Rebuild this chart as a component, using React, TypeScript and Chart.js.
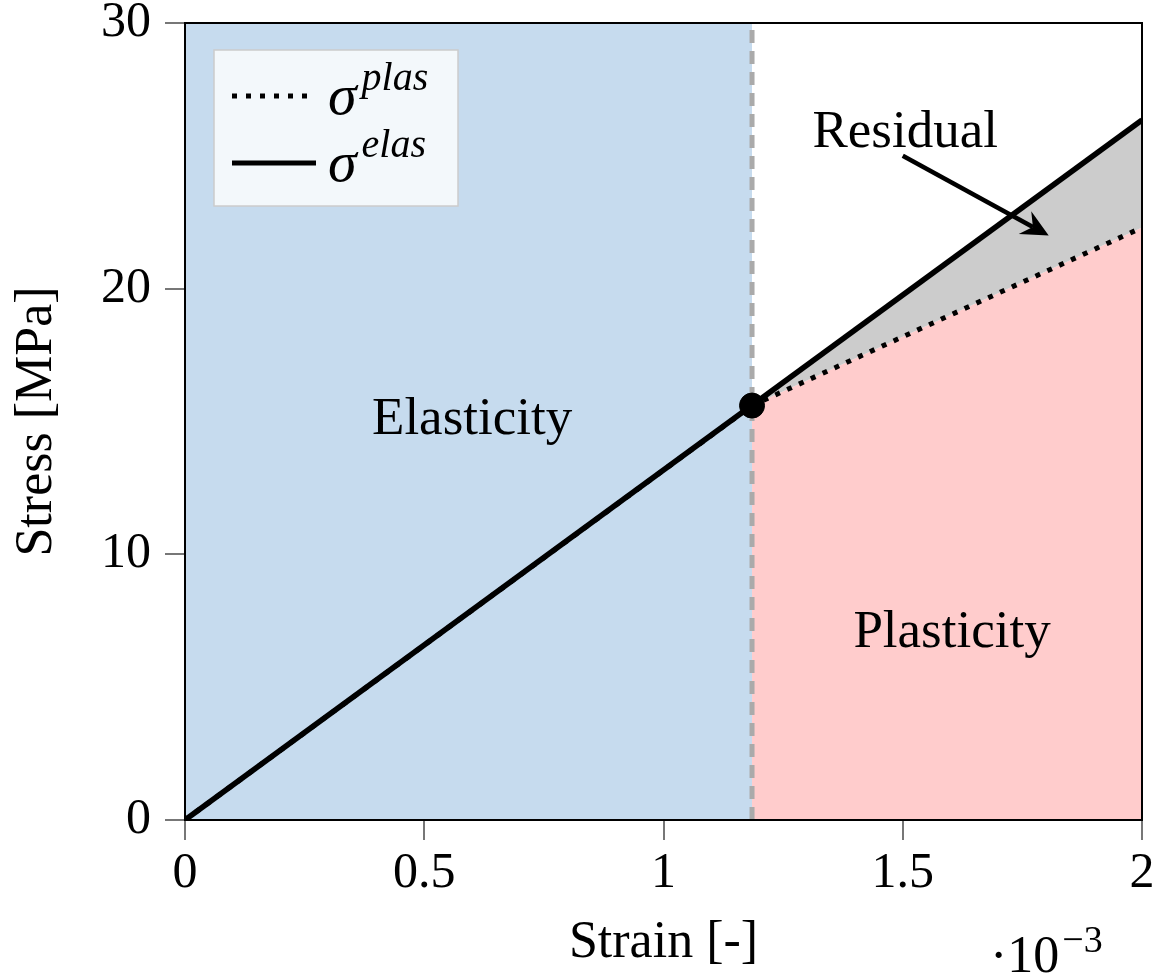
import React, { useEffect, useRef } from "react";
import { Chart, registerables } from "chart.js";

Chart.register(...registerables);

// ---- data ----
const xRange = [0, 2];
const yRange = [0, 30];
const xTicks = [0, 0.5, 1, 1.5, 2];
const yTicks = [0, 10, 20, 30];
const yieldPoint = { x: 1.185, y: 15.6 };
const elasticEnd = { x: 2, y: 26.35 };
const plasticEnd = { x: 2, y: 22.3 };
const legendLabels = [
  { base: "σ", sup: "plas", dotted: true },
  { base: "σ", sup: "elas", dotted: false },
];
const regionLabels = [
  { text: "Elasticity", x: 0.6, y: 15.05 },
  { text: "Plasticity", x: 1.603, y: 7.05 },
  { text: "Residual", x: 1.505, y: 25.85 },
];
const arrowFrom = { x: 1.5, y: 25.0 };
const arrowTo = { x: 1.805, y: 22.0 };
const xAxisTitle = "Strain [-]";
const yAxisTitle = "Stress [MPa]";
const exponentBase = "·10";
const exponentSup = "−3";

const FONT = "'Liberation Serif', 'DejaVu Serif', serif";
const BLUE = "#c6dbee";
const PINK = "#ffcccc";
const GRAY = "#cccccc";

const overlayPlugin = {
  id: "overlay",
  afterDatasetsDraw(chart: any) {
    const { ctx, chartArea, scales } = chart;
    const xs = scales.x;
    const ys = scales.y;
    ctx.save();
    // region labels
    ctx.fillStyle = "#000";
    ctx.font = `53px ${FONT}`;
    ctx.textAlign = "center";
    ctx.textBaseline = "middle";
    for (const l of regionLabels) {
      ctx.fillText(l.text, xs.getPixelForValue(l.x), ys.getPixelForValue(l.y));
    }
    // arrow
    const x1 = xs.getPixelForValue(arrowFrom.x);
    const y1 = ys.getPixelForValue(arrowFrom.y);
    const x2 = xs.getPixelForValue(arrowTo.x);
    const y2 = ys.getPixelForValue(arrowTo.y);
    const ang = Math.atan2(y2 - y1, x2 - x1);
    const head = 30;
    ctx.strokeStyle = "#000";
    ctx.lineWidth = 4.5;
    ctx.beginPath();
    ctx.moveTo(x1, y1);
    ctx.lineTo(x2 - Math.cos(ang) * head * 0.6, y2 - Math.sin(ang) * head * 0.6);
    ctx.stroke();
    ctx.beginPath();
    ctx.moveTo(x2, y2);
    ctx.lineTo(x2 - head * Math.cos(ang - 0.45), y2 - head * Math.sin(ang - 0.45));
    ctx.lineTo(x2 - head * 0.6 * Math.cos(ang), y2 - head * 0.6 * Math.sin(ang));
    ctx.lineTo(x2 - head * Math.cos(ang + 0.45), y2 - head * Math.sin(ang + 0.45));
    ctx.closePath();
    ctx.fillStyle = "#000";
    ctx.fill();

    // frame
    ctx.strokeStyle = "#000";
    ctx.lineWidth = 2;
    ctx.strokeRect(chartArea.left, chartArea.top, chartArea.right - chartArea.left, chartArea.bottom - chartArea.top);

    // legend box
    const bx = chartArea.left + 29;
    const by = chartArea.top + 27;
    const bw = 244;
    const bh = 156;
    ctx.fillStyle = "rgba(243,248,251,1)";
    ctx.fillRect(bx, by, bw, bh);
    ctx.strokeStyle = "#cccccc";
    ctx.lineWidth = 1.5;
    ctx.strokeRect(bx, by, bw, bh);
    legendLabels.forEach((l, i) => {
      const ly = by + 46 + i * 67;
      ctx.strokeStyle = "#000";
      ctx.lineWidth = 5;
      ctx.setLineDash(l.dotted ? [5, 9] : []);
      ctx.beginPath();
      ctx.moveTo(bx + 18, ly);
      ctx.lineTo(bx + 102, ly);
      ctx.stroke();
      ctx.setLineDash([]);
      ctx.fillStyle = "#000";
      ctx.textAlign = "left";
      ctx.textBaseline = "alphabetic";
      ctx.font = `italic 58px ${FONT}`;
      ctx.fillText(l.base, bx + 114, ly + 18);
      const w = ctx.measureText(l.base).width;
      ctx.font = `italic 40px ${FONT}`;
      ctx.fillText(l.sup, bx + 114 + w + 5, ly - 6);
    });

    // exponent label
    ctx.fillStyle = "#000";
    ctx.textAlign = "left";
    ctx.textBaseline = "alphabetic";
    ctx.font = `52px ${FONT}`;
    const ex = 990;
    const ey = 972;
    ctx.fillText(exponentBase, ex, ey);
    const ew = ctx.measureText(exponentBase).width;
    ctx.font = `38px ${FONT}`;
    ctx.fillText(exponentSup, ex + ew + 3, ey - 20);
    ctx.restore();
  },
};

export default function App() {
  const ref = useRef<HTMLCanvasElement | null>(null);
  useEffect(() => {
    if (!ref.current) return;
    const chart = new Chart(ref.current, {
      type: "scatter",
      data: {
        datasets: [
          {
            label: "elastic region",
            data: [
              { x: xRange[0], y: yRange[1] },
              { x: yieldPoint.x, y: yRange[1] },
            ],
            showLine: true,
            fill: "origin",
            backgroundColor: BLUE,
            borderWidth: 0,
            pointRadius: 0,
            order: 10,
          },
          {
            label: "plastic region",
            data: [
              { x: yieldPoint.x, y: yieldPoint.y },
              { x: plasticEnd.x, y: plasticEnd.y },
            ],
            showLine: true,
            fill: "origin",
            backgroundColor: PINK,
            borderWidth: 0,
            pointRadius: 0,
            order: 9,
          },
          {
            label: "residual",
            data: [
              { x: yieldPoint.x, y: yieldPoint.y },
              { x: elasticEnd.x, y: elasticEnd.y },
            ],
            showLine: true,
            fill: 1,
            backgroundColor: GRAY,
            borderWidth: 0,
            pointRadius: 0,
            order: 8,
          },
          {
            label: "yield",
            data: [
              { x: yieldPoint.x, y: yRange[0] },
              { x: yieldPoint.x, y: yRange[1] },
            ],
            showLine: true,
            borderColor: "#aaaaaa",
            borderWidth: 5,
            borderDash: [13, 8],
            pointRadius: 0,
            order: 7,
          },
          {
            label: "plas",
            data: [
              { x: 0, y: 0 },
              { x: yieldPoint.x, y: yieldPoint.y },
              { x: plasticEnd.x, y: plasticEnd.y },
            ],
            showLine: true,
            borderColor: "#000",
            borderWidth: 5,
            borderDash: [5, 8],
            pointRadius: 0,
            order: 6,
          },
          {
            label: "elas",
            data: [
              { x: 0, y: 0 },
              { x: elasticEnd.x, y: elasticEnd.y },
            ],
            showLine: true,
            borderColor: "#000",
            borderWidth: 5.5,
            pointRadius: 0,
            order: 5,
          },
          {
            label: "point",
            data: [{ x: yieldPoint.x, y: yieldPoint.y }],
            pointRadius: 12.5,
            backgroundColor: "#000",
            borderColor: "#000",
            order: 4,
          },
        ],
      },
      options: {
        animation: false,
        responsive: false,
        maintainAspectRatio: false,
        layout: { padding: { left: 0, top: 23, right: 16, bottom: 0 } },
        plugins: { legend: { display: false }, tooltip: { enabled: false } },
        scales: {
          x: {
            type: "linear",
            min: xRange[0],
            max: xRange[1],
            afterBuildTicks: (s: any) => {
              s.ticks = xTicks.map((v) => ({ value: v }));
            },
            afterFit: (s: any) => {
              s.height = 157;
              s.paddingLeft = 0;
              s.paddingRight = 0;
            },
            ticks: {
              font: { family: FONT, size: 50 },
              color: "#000",
              padding: 4,
              maxRotation: 0,
              callback: (v: any) => String(v),
            },
            grid: { drawOnChartArea: false, drawTicks: true, tickLength: 20, color: "#777", lineWidth: 2 },
            border: { display: true, color: "#000", width: 2 },
            title: {
              display: true,
              text: xAxisTitle,
              font: { family: FONT, size: 52 },
              color: "#000",
              padding: { top: 0, bottom: 2 },
            },
          },
          y: {
            type: "linear",
            min: yRange[0],
            max: yRange[1],
            afterBuildTicks: (s: any) => {
              s.ticks = yTicks.map((v) => ({ value: v }));
            },
            afterFit: (s: any) => {
              s.width = 185;
              s.paddingTop = 0;
              s.paddingBottom = 0;
            },
            ticks: {
              font: { family: FONT, size: 50 },
              color: "#000",
              padding: 14,
              callback: (v: any) => String(v),
            },
            grid: { drawOnChartArea: false, drawTicks: true, tickLength: 20, color: "#777", lineWidth: 2 },
            border: { display: true, color: "#000", width: 2 },
            title: {
              display: true,
              text: yAxisTitle,
              font: { family: FONT, size: 52 },
              color: "#000",
              padding: { top: 6, bottom: 0 },
            },
          },
        },
      },
      plugins: [overlayPlugin],
    });
    return () => chart.destroy();
  }, []);
  return (
    <div style={{ position: "fixed", left: 0, top: 0, width: 1158, height: 977, background: "#fff" }}>
      <canvas ref={ref} width={1158} height={977} style={{ width: 1158, height: 977 }} />
    </div>
  );
}
